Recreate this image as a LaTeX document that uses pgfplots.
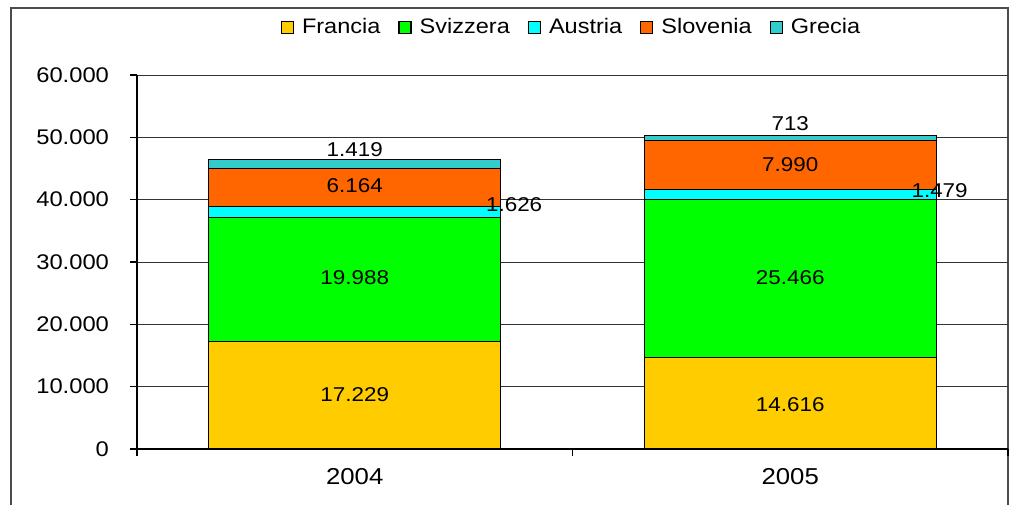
\documentclass[border=0pt]{standalone}
\usepackage{fontspec}
\setmainfont{Liberation Sans}[FakeStretch=1.12]
\usepackage{pgfplots}
\pgfplotsset{compat=1.18}
\usepackage{pgfplotstable}

\definecolor{francia}{HTML}{FFCC00}
\definecolor{svizzera}{HTML}{00FF00}
\definecolor{austria}{HTML}{00FFFF}
\definecolor{slovenia}{HTML}{FF6600}
\definecolor{grecia}{HTML}{33CCCC}

% valori per anno
\pgfplotstableread{
x francia svizzera austria slovenia grecia
0 17229 19988 1626 6164 1419
1 14616 25466 1479 7990 713
}\dati

% posizione delle etichette dei valori
\pgfplotstableread{
x y label
0 8660 17.229
0 27430 19.988
0.366 39150 1.626
0 42200 6.164
0 47970 1.419
1 7060 14.616
1 27430 25.466
1.343 41390 1.479
1 45560 7.990
1 52140 713
}\etichette

\begin{document}
\begin{tikzpicture}
\clip (0,0) rectangle (512pt,252pt);
\draw[black!70, line width=0.9pt] (5.5pt,-5pt) rectangle (504pt,248pt);
\begin{axis}[
  at={(68.5pt,27.5pt)}, anchor=south west,
  scale only axis, width=435.5pt, height=187pt,
  ybar stacked, bar width=146pt,
  xmin=-0.5, xmax=1.5, ymin=0, ymax=60000,
  axis x line*=bottom, axis y line*=left,
  axis line style={black, line width=0.6pt},
  ytick={0,10000,...,60000},
  scaled y ticks=false,
  ymajorgrids, grid style={black!80, line width=0.5pt},
  xtick={-0.5,0.5,1.5}, xticklabels={},
  extra x ticks={0,1}, extra x tick labels={2004,2005},
  extra x tick style={major tick length=0pt, xticklabel style={yshift=-6pt}},
  tick align=outside, major tick length=3.5pt,
  tick style={black, line width=0.6pt},
  xticklabel style={font=\fontsize{11.5}{12}\selectfont},
  yticklabel style={font=\fontsize{10.6}{12}\selectfont, xshift=-7pt,
    /pgf/number format/fixed, /pgf/number format/1000 sep={.}},
  /pgf/number format/assume math mode=true,
  legend style={at={(0.5,1.126)}, anchor=center, draw=none,
    legend columns=-1, font=\fontsize{10.5}{12}\selectfont,
    /tikz/every even column/.append style={column sep=7pt},
    /tikz/every odd column/.append style={column sep=2pt}},
  legend image code/.code={\draw[#1, draw=black, line width=0.6pt] (0pt,-3pt) rectangle (6pt,3pt);},
]
\addplot[fill=francia, draw=black, line width=0.5pt] table[x=x, y=francia]{\dati};
\addplot[fill=svizzera, draw=black, line width=0.5pt] table[x=x, y=svizzera]{\dati};
\addplot[fill=austria, draw=black, line width=0.5pt] table[x=x, y=austria]{\dati};
\addplot[fill=slovenia, draw=black, line width=0.5pt] table[x=x, y=slovenia]{\dati};
\addplot[fill=grecia, draw=black, line width=0.5pt] table[x=x, y=grecia]{\dati};
\legend{Francia,Svizzera,Austria,Slovenia,Grecia}
\end{axis}
\begin{axis}[
  at={(68.5pt,27.5pt)}, anchor=south west,
  scale only axis, width=435.5pt, height=187pt,
  xmin=-0.5, xmax=1.5, ymin=0, ymax=60000,
  hide axis, clip=false,
]
\addplot[draw=none, mark=none, nodes near coords, point meta=explicit symbolic,
  every node near coord/.style={anchor=center, font=\fontsize{10}{12}\selectfont, text=black}]
  table[x=x, y=y, meta=label]{\etichette};
\end{axis}
\end{tikzpicture}
\end{document}
